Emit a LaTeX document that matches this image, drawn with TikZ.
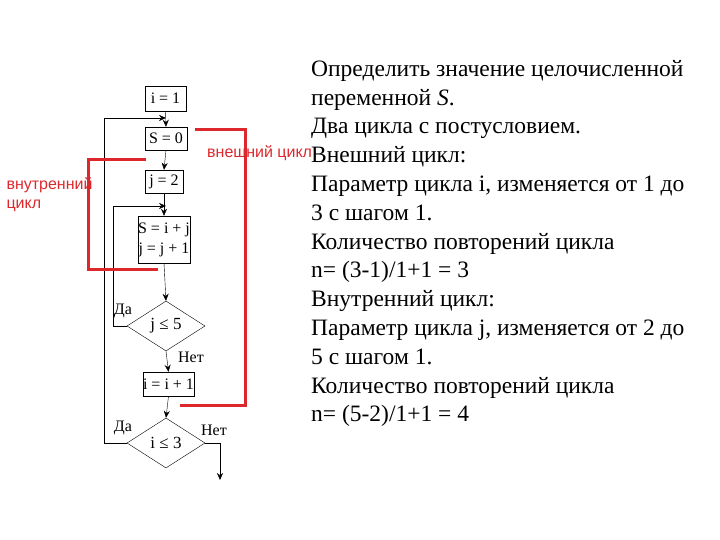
\documentclass[tikz,border=0pt]{standalone}
\usepackage{fontspec}
\setmainfont{Liberation Serif}
\newfontfamily\lsans{Liberation Sans}
\usetikzlibrary{shapes.geometric,arrows.meta}
\definecolor{rd}{RGB}{220,40,45}
\begin{document}
\begin{tikzpicture}[x=1pt,y=-1pt,
 bx/.style={draw,thin,inner sep=0pt,font=\fontsize{16}{19}\selectfont},
 dm/.style={draw,thin,diamond,aspect=1.55,minimum width=78pt,minimum height=50pt,inner sep=0pt,font=\fontsize{17}{19}\selectfont},
 ln/.style={thin,-{Stealth[length=7pt,width=6pt]}},
 lb/.style={font=\fontsize{16}{18}\selectfont},
 rl/.style={rd,line width=3pt},
 rt/.style={rd,font=\lsans\fontsize{16}{19}\selectfont}]
\useasboundingbox (0,0) rectangle (720,540);
\node[bx,minimum width=41pt,minimum height=25pt] (a) at (165.5,98.5) {i = 1};
\node[bx,minimum width=42pt,minimum height=23pt] (b) at (166,138.5) {S = 0};
\node[bx,minimum width=38pt,minimum height=23pt] (c) at (164,181.5) {j = 2};
\node[bx,minimum width=50pt,minimum height=47pt,align=center] (d) at (164,239.5) {S = i + j\\[1pt] j = j + 1};
\node[dm] (e) at (166,326) {j ≤ 5};
\node[bx,minimum width=47pt,minimum height=24pt] (f) at (168.5,384) {i = i + 1};
\node[dm] (g) at (166,443) {i ≤ 3};
\coordinate (m1) at (166,118);
\coordinate (m2) at (166,206);
\coordinate (ex) at (220,480);
\draw[ln] (a.south) -- (b.north);
\draw[ln] (b.south) -- (c.north);
\draw[ln] (c.south) -- (d.north);
\draw[ln] (d.south) -- (e.north);
\draw[ln] (e.south) -- (f.north);
\draw[ln] (f.south) -- (g.north);
\draw[ln] (e.west) -- (113,326) -- (113,206) -- (m2);
\draw[ln] (g.west) -- (104,443) -- (104,118) -- (m1);
\draw[ln] (g.east) -- (220,443) -- (ex);
\node[lb] (da1) at (123,311) {Да};
\node[lb] (n1) at (191,357) {Нет};
\node[lb] (da2) at (123,428) {Да};
\node[lb] (n2) at (214,430) {Нет};
\draw[rl] (195,130) -- (245,130) -- (245,405) -- (180,405);
\draw[rl] (146,160) -- (88,160) -- (88,269) -- (158,269);
\node[rt,anchor=west,inner sep=1pt] (t1) at (206,153) {внешний цикл};
\node[rt,anchor=west,align=left] (t2) at (3,195) {внутренний\\цикл};
\node[anchor=north west,align=left,font=\fontsize{23.5}{28.8}\selectfont,inner sep=0pt] (txt) at (311,60) {Определить значение целочисленной\\переменной \textit{S}.\\Два цикла с постусловием.\\Внешний цикл:\\Параметр цикла i, изменяется от 1 до\\3 с шагом 1.\\Количество повторений цикла\\n= (3-1)/1+1 = 3\\Внутренний цикл:\\Параметр цикла j, изменяется от 2 до\\5 с шагом 1.\\Количество повторений цикла\\n= (5-2)/1+1 = 4};
\end{tikzpicture}
\end{document}
